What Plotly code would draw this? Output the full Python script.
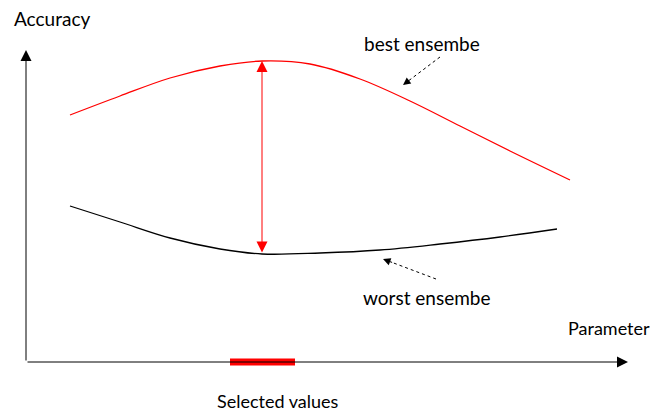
import plotly.graph_objects as go

# schematic data (parameter vs accuracy), origin at the axis corner
best_x = [44, 94, 144, 194, 236, 284, 334, 384, 434, 484, 544]
best_y = [247, 266, 284, 296, 301, 298, 283, 261, 236, 211, 182]
worst_x = [44, 94, 144, 194, 236, 294, 354, 414, 474, 531]
worst_y = [156, 140, 124, 113, 108, 109, 112, 118, 125, 133]
selected = [204, 269]
selected_at = 236  # parameter where the gap is largest

RED = "#FF0000"
FONT = "Lato"

fig = go.Figure()

fig.add_trace(go.Scatter(x=best_x, y=best_y, mode="lines", line=dict(color=RED, width=1.3, shape="spline"),
                         showlegend=False, hoverinfo="skip"))
fig.add_trace(go.Scatter(x=worst_x, y=worst_y, mode="lines", line=dict(color="black", width=1.3, shape="spline"),
                         showlegend=False, hoverinfo="skip"))
# selected range on the parameter axis
fig.add_trace(go.Scatter(x=selected, y=[0, 0], mode="lines", line=dict(color=RED, width=7),
                         showlegend=False, hoverinfo="skip"))

gap_top = best_y[best_x.index(selected_at)]
gap_bot = worst_y[worst_x.index(selected_at)]

ann = []
# axes with arrows
ann.append(dict(x=0, y=312, ax=0, ay=0, xref="x", yref="y", axref="x", ayref="y", text="",
                showarrow=True, arrowhead=2, arrowsize=2.2, arrowwidth=1, arrowcolor="black"))
ann.append(dict(x=602, y=0, ax=0, ay=0, xref="x", yref="y", axref="x", ayref="y", text="",
                showarrow=True, arrowhead=2, arrowsize=2.2, arrowwidth=1, arrowcolor="black"))
# double arrow between best and worst
ann.append(dict(x=selected_at, y=gap_top, ax=selected_at, ay=gap_bot, xref="x", yref="y", axref="x", ayref="y",
                text="", showarrow=True, arrowhead=2, startarrowhead=2, arrowside="end+start",
                arrowsize=2.2, startarrowsize=2.2, arrowwidth=1, arrowcolor=RED))


def pointer(x0, y0, x1, y1):
    # dashed line with small head at (x1, y1)
    fig.add_shape(type="line", x0=x0, y0=y0, x1=x1 + (x0 - x1) * 0.15, y1=y1 + (y0 - y1) * 0.15,
                  xref="x", yref="y", line=dict(color="black", width=1, dash="3px,3px"))
    ann.append(dict(x=x1, y=y1, ax=x1 + (x0 - x1) * 0.2, ay=y1 + (y0 - y1) * 0.2, xref="x", yref="y",
                    axref="x", ayref="y", text="", showarrow=True, arrowhead=2, arrowsize=1.5,
                    arrowwidth=1, arrowcolor="black"))


pointer(414, 305, 377, 277)
pointer(410, 83, 357, 103)


def label(x, y, text, size=19, anchor="center"):
    ann.append(dict(x=x, y=y, text=text, xanchor=anchor, xref="x", yref="y", showarrow=False,
                    font=dict(family=FONT, size=size, color="black")))


label(-14, 344, "Accuracy", anchor="left")
label(396, 319, "best ensembe")
label(401, 65, "worst ensembe")
label(626, 34, "Parameter", size=18, anchor="right")
label(252, -39, "Selected values", size=18)

# page body adds an 8px offset, so the figure is 8px smaller and the ranges shifted
fig.update_layout(
    width=654, height=403,
    margin=dict(l=0, r=0, t=0, b=0),
    paper_bgcolor="white", plot_bgcolor="white",
    xaxis=dict(range=[-18, 636], visible=False, fixedrange=True),
    yaxis=dict(range=[-49, 354], visible=False, fixedrange=True),
    annotations=ann,
)

fig.write_html("out.html", post_script="document.body.style.overflow='hidden';")
